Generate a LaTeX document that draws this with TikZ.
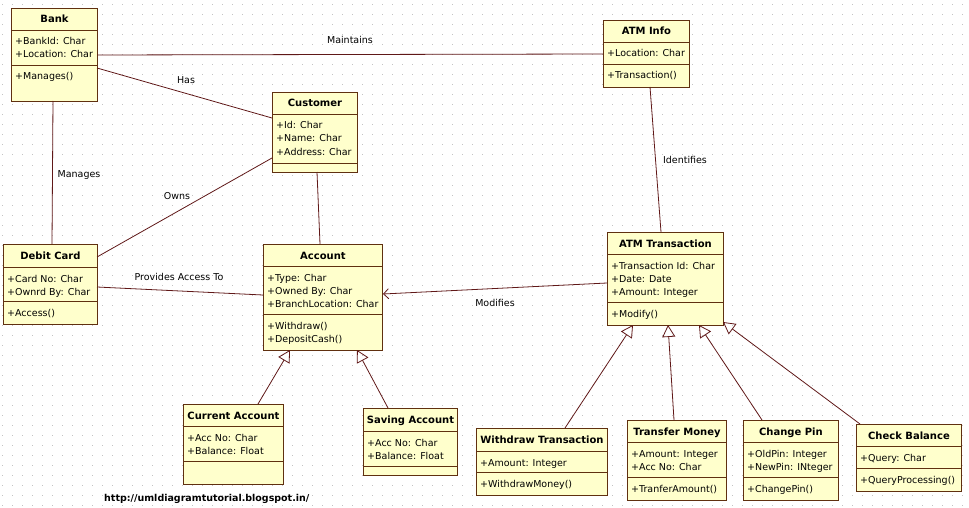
\documentclass[tikz,border=0pt]{standalone}
\usepackage{fontspec}
\setmainfont{DejaVu Sans}
\usetikzlibrary{calc,arrows.meta}
\definecolor{boxfill}{RGB}{255,255,204}
\definecolor{boxline}{RGB}{96,48,16}
\definecolor{conn}{RGB}{96,24,24}
\definecolor{dotc}{RGB}{195,195,195}
\tikzset{
  classbox/.style={draw=boxline, fill=boxfill, line width=0.9pt, inner sep=0pt, anchor=north west},
  divider/.style={draw=boxline, line width=0.9pt},
  titletext/.style={inner sep=0pt, anchor=base, font=\bfseries\fontsize{10}{12}\selectfont},
  linetext/.style={inner sep=0pt, anchor=base west, font=\fontsize{9.5}{11}\selectfont},
  labeltext/.style={inner sep=0pt, anchor=base, font=\fontsize{9.5}{11}\selectfont},
  assoc/.style={draw=conn, line width=0.8pt},
  gener/.style={draw=conn, line width=0.8pt, -{Triangle[open, length=12pt, width=13pt]}},
  navig/.style={draw=conn, line width=0.8pt, -{Straight Barb[length=5pt, width=10pt]}},
  dotrow/.style={draw=dotc, line width=1pt, dash pattern=on 1pt off 9pt},
}
\newcommand\umlclass[8]{%
  \node[classbox, minimum width=#4pt, minimum height=#5pt] (#1) at (#2,#3) {};
  \draw[divider] ($(#1.north west)+(0,#6)$) -- ($(#1.north east)+(0,#6)$);
  \draw[divider] ($(#1.north west)+(0,#7)$) -- ($(#1.north east)+(0,#7)$);
  \node[titletext] (#1-title) at ($(#1.north)+(0,#6/2+4)$) {#8};
}
\newcommand\umllines[3]{%
  \foreach \t [count=\i] in {#3} {%
    \node[linetext] (#1-#2-\i) at ($(#1.north west)+(4,#2+15+13*\i-13)$) {\t};
  }%
}
\begin{document}
\begin{tikzpicture}[x=1pt,y=-1pt]
\useasboundingbox[fill=white] (0,0) rectangle (969,508);
\foreach \yy in {5,15,...,505} \draw[dotrow] (2,\yy) -- (969,\yy);

% classes
\umlclass{bank}{11}{8}{86}{93}{22}{57}{Bank}
\umllines{bank}{22}{+BankId: Char, +Location: Char}
\umllines{bank}{57}{+Manages()}

\umlclass{customer}{272}{92}{85}{80}{22}{71}{Customer}
\umllines{customer}{22}{+Id: Char, +Name: Char, +Address: Char}

\umlclass{atminfo}{603}{20}{86}{67}{22}{44}{ATM Info}
\umllines{atminfo}{22}{+Location: Char}
\umllines{atminfo}{44}{+Transaction()}

\umlclass{debit}{3}{244}{94}{80}{23}{57}{Debit Card}
\umllines{debit}{23}{+Card No: Char, +Ownrd By: Char}
\umllines{debit}{57}{+Access()}

\umlclass{account}{263}{244}{119}{106}{22}{70}{Account}
\umllines{account}{22}{+Type: Char, +Owned By: Char, +BranchLocation: Char}
\umllines{account}{70}{+Withdraw(), +DepositCash()}

\umlclass{atmt}{607}{232}{116}{93}{22}{70}{ATM Transaction}
\umllines{atmt}{22}{+Transaction Id: Char, +Date: Date, +Amount: Integer}
\umllines{atmt}{70}{+Modify()}

\umlclass{current}{183}{404}{100}{80}{22}{57}{Current Account}
\umllines{current}{22}{+Acc No: Char, +Balance: Float}

\umlclass{saving}{363}{408}{94}{67}{23}{58}{Saving Account}
\umllines{saving}{23}{+Acc No: Char, +Balance: Float}

\umlclass{withdraw}{476}{428}{131}{67}{23}{44}{Withdraw Transaction}
\umllines{withdraw}{23}{+Amount: Integer}
\umllines{withdraw}{44}{+WithdrawMoney()}

\umlclass{transfer}{627}{420}{99}{80}{22}{57}{Transfer Money}
\umllines{transfer}{22}{+Amount: Integer, +Acc No: Char}
\umllines{transfer}{57}{+TranferAmount()}

\umlclass{changepin}{743}{420}{95}{80}{22}{57}{Change Pin}
\umllines{changepin}{22}{+OldPin: Integer, +NewPin: INteger}
\umllines{changepin}{57}{+ChangePin()}

\umlclass{checkbal}{856}{424}{105}{67}{22}{44}{Check Balance}
\umllines{checkbal}{22}{+Query: Char}
\umllines{checkbal}{44}{+QueryProcessing()}

% associations
\draw[assoc] ($(bank.north west)+(86,47)$) -- ($(atminfo.north west)+(0,34)$);
\draw[assoc] ($(bank.north west)+(86,60)$) -- ($(customer.north west)+(0,26)$);
\draw[assoc] ($(bank.north west)+(42,93)$) -- ($(debit.north west)+(49,0)$);
\draw[assoc] ($(customer.north west)+(0,66)$) -- ($(debit.north west)+(94,13)$);
\draw[assoc] ($(customer.north west)+(45,80)$) -- ($(account.north west)+(57,0)$);
\draw[assoc] ($(debit.north west)+(94,43)$) -- ($(account.north west)+(0,51)$);
\draw[assoc] ($(atminfo.north west)+(47,67)$) -- ($(atmt.north west)+(54,0)$);
\draw[navig] ($(atmt.north west)+(0,51)$) -- ($(account.north west)+(120,50)$);

% generalizations
\draw[gener] ($(current.north west)+(75,0)$) -- ($(account.north west)+(27,106)$);
\draw[gener] ($(saving.north west)+(25,0)$) -- ($(account.north west)+(94,106)$);
\draw[gener] ($(withdraw.north west)+(89,0)$) -- ($(atmt.north west)+(26,93)$);
\draw[gener] ($(transfer.north west)+(47,0)$) -- ($(atmt.north west)+(61,93)$);
\draw[gener] ($(changepin.north west)+(19,0)$) -- ($(atmt.north west)+(92,93)$);
\draw[gener] ($(checkbal.north west)+(4,0)$) -- ($(atmt.north west)+(116,90)$);

% labels
\node[labeltext] (lmaint) at (350,44) {Maintains};
\node[labeltext] (lhas) at (186,84) {Has};
\node[labeltext] (lmanages) at (79,178) {Manages};
\node[labeltext] (lowns) at (177,199) {Owns};
\node[labeltext] (lprov) at (179,280) {Provides Access To};
\node[labeltext] (lident) at (685,164) {Identifies};
\node[labeltext] (lmod) at (495,306) {Modifies};

\node[inner sep=0pt, anchor=base west, font=\bfseries\fontsize{9.5}{11}\selectfont] (url) at (104,501) {http://umldiagramtutorial.blogspot.in/};
\end{tikzpicture}
\end{document}
